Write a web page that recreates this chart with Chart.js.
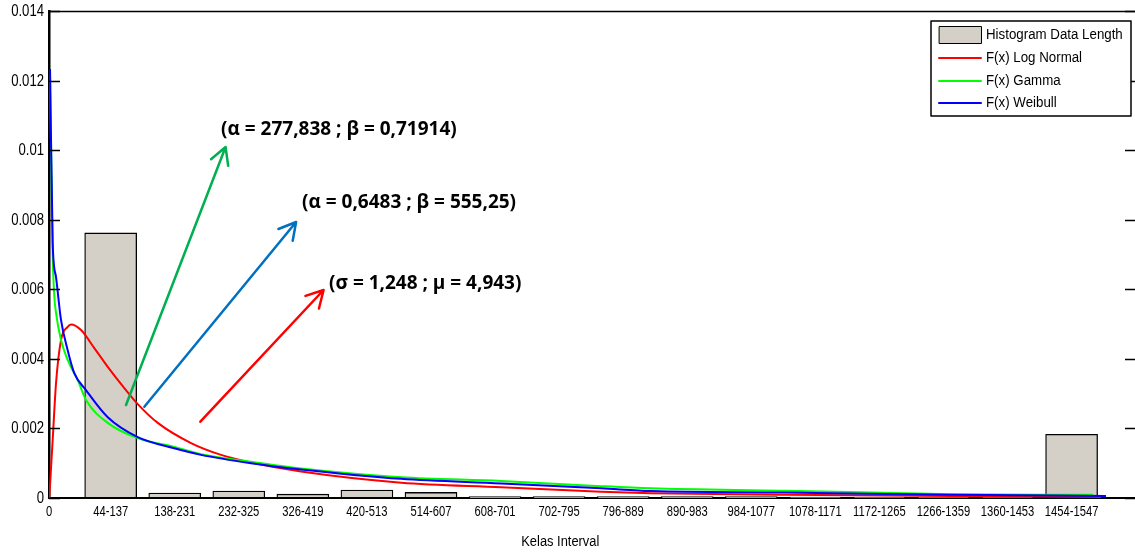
<!DOCTYPE html>
<html>
<head>
<meta charset="utf-8">
<script src="https://cdn.jsdelivr.net/npm/chart.js@4.4.1/dist/chart.umd.min.js"></script>
<style>
  html, body { margin: 0; padding: 0; background: #fff; overflow: hidden; width: 1135px; height: 552px; }
  #wrap { position: relative; width: 1138px; height: 552px; }
</style>
</head>
<body>
<div id="wrap"><canvas id="c" width="1138" height="552"></canvas></div>
<script>
// Interval classes of the data length histogram
const intervalLabels = ['44-137', '138-231', '232-325', '326-419', '420-513', '514-607', '608-701', '702-795',
  '796-889', '890-983', '984-1077', '1078-1171', '1172-1265', '1266-1359', '1360-1453', '1454-1547'];
// Relative frequency density of each class
const histogramDensity = [0.00762, 0.00014, 0.00020, 0.00011, 0.00023, 0.00016, 0.00004, 0.00004,
  0.00004, 0.00004, 0.00004, 0.00003, 0.00003, 0.00003, 0.00003, 0.00183];

// Fitted density curves (x = data length, y = f(x))
const logNormalX = [0.4, 5.4, 10.3, 17.6, 27.4, 32.3, 47.0, 66.5, 86.2, 110.5, 130.2, 159.6, 208.4, 252.5, 296.5, 369.9, 516.7, 663.5, 810.3, 883.7, 1078.9, 1324, 1544];
const logNormalY = [0, 0.00167, 0.00330, 0.00454, 0.00492, 0.00499, 0.00483, 0.00431, 0.00377, 0.00316, 0.00270, 0.00216, 0.00158, 0.00124, 0.00102, 0.00076, 0.00044, 0.00031, 0.00018, 0.00014, 0.00009, 0.00006, 0.00003];

const gammaX = [1.5, 5.4, 7.8, 10.3, 17.6, 27.4, 42.1, 54.3, 86.2, 130.2, 183.8, 223.0, 296.5, 369.9, 516.7, 663.5, 810.3, 883.7, 1078.9, 1324, 1532];
const gammaY = [0.0122, 0.0070, 0.0058, 0.00532, 0.00454, 0.00397, 0.00339, 0.00282, 0.00216, 0.00172, 0.00147, 0.00126, 0.00104, 0.00085, 0.00060, 0.00049, 0.00034, 0.00028, 0.00021, 0.00011, 0.00009];

const weibullX = [1.5, 5.4, 10.3, 17.6, 27.4, 37.1, 54.3, 86.2, 130.2, 183.8, 223.0, 296.5, 369.9, 516.7, 663.5, 810.3, 883.7, 1078.9, 1324, 1551];
const weibullY = [0.01233, 0.00733, 0.00635, 0.00512, 0.00425, 0.00359, 0.00310, 0.00232, 0.00175, 0.00143, 0.00124, 0.00100, 0.00082, 0.00055, 0.00042, 0.00028, 0.00020, 0.00016, 0.00009, 0.00006];

// Axis tick labels
const yTickLabels = ['0', '0.002', '0.004', '0.006', '0.008', '0.01', '0.012', '0.014'];
const xTickLabels = ['0'].concat(intervalLabels);

// Parameter notes with their arrows (data coordinates)
const notes = [
  { text: '(α = 277,838 ; β = 0,71914)', at: [252.5, 0.01060], from: [113.0, 0.002673], to: [259.1, 0.01009], color: '#00b050' },
  { text: '(α = 0,6483 ; β = 555,25)', at: [371.4, 0.008490], from: [139.9, 0.002625], to: [362.6, 0.007934], color: '#0070c0' },
  { text: '(σ = 1,248 ; μ = 4,943)', at: [411.0, 0.006170], from: [222.1, 0.002193], to: [402.9, 0.005979], color: '#ff0000' }
];

const plainFont = "'Liberation Sans', Arial, sans-serif";

const classCenters = intervalLabels.map(l => { const p = l.split('-').map(Number); return (p[0] + p[1]) / 2; });
const pts = (xs, ys) => xs.map((x, i) => ({ x, y: ys[i] }));

// text squeezed horizontally, like the narrow lettering of the axes
function narrowText(ctx, text, x, y, size, squeeze, align) {
  ctx.save();
  ctx.font = size + 'px ' + plainFont;
  ctx.textAlign = align;
  ctx.textBaseline = 'middle';
  ctx.fillStyle = '#000';
  ctx.translate(x, y);
  ctx.scale(squeeze, 1);
  ctx.fillText(text, 0, 0);
  ctx.restore();
}

const decorations = {
  id: 'decorations',
  afterDatasetsDraw(chart) {
    const { ctx, chartArea: a, scales: { x, y } } = chart;
    ctx.save();
    // frame top edge
    ctx.strokeStyle = '#000';
    ctx.lineWidth = 1.5;
    ctx.beginPath();
    ctx.moveTo(a.left, a.top + 0.5);
    ctx.lineTo(a.right, a.top + 0.5);
    ctx.stroke();
    // inward tick marks on both vertical sides, with the value labels
    y.ticks.forEach((t, i) => {
      const py = Math.round(y.getPixelForValue(t.value)) + 0.5;
      ctx.strokeStyle = '#000';
      ctx.lineWidth = 1.5;
      ctx.beginPath();
      ctx.moveTo(a.left, py); ctx.lineTo(a.left + 11, py);
      ctx.moveTo(a.right, py); ctx.lineTo(a.right - 11, py);
      ctx.stroke();
      narrowText(ctx, yTickLabels[i], a.left - 5, py + 0.5, 16, 0.82, 'right');
    });
    // category labels under the axis
    x.ticks.forEach((t, i) => {
      narrowText(ctx, xTickLabels[i], x.getPixelForValue(t.value), a.bottom + 14.5, 14, 0.8, 'center');
    });
    // parameter notes and arrows
    notes.forEach(n => {
      const x0 = x.getPixelForValue(n.from[0]), y0 = y.getPixelForValue(n.from[1]);
      const x1 = x.getPixelForValue(n.to[0]), y1 = y.getPixelForValue(n.to[1]);
      ctx.strokeStyle = n.color;
      ctx.lineWidth = 2.5;
      ctx.lineCap = 'round';
      ctx.lineJoin = 'round';
      ctx.beginPath();
      ctx.moveTo(x0, y0); ctx.lineTo(x1, y1);
      const ang = Math.atan2(y0 - y1, x0 - x1);
      const head = 19, spread = 29 * Math.PI / 180;
      ctx.moveTo(x1 + head * Math.cos(ang - spread), y1 + head * Math.sin(ang - spread));
      ctx.lineTo(x1, y1);
      ctx.lineTo(x1 + head * Math.cos(ang + spread), y1 + head * Math.sin(ang + spread));
      ctx.stroke();
      ctx.fillStyle = '#000';
      ctx.font = "bold 19px 'Open Sans', sans-serif";
      ctx.textAlign = 'left';
      ctx.textBaseline = 'middle';
      ctx.fillText(n.text, x.getPixelForValue(n.at[0]), y.getPixelForValue(n.at[1]));
    });
    // axis title, centred between the outer tick labels
    const xt = (x.getPixelForValue(0) + x.getPixelForValue(classCenters[classCenters.length - 1])) / 2;
    narrowText(ctx, 'Kelas Interval', xt, 542, 14, 0.92, 'center');
    // legend box
    const bx = 931, by = 21, bw = 200, bh = 95;
    ctx.fillStyle = '#fff';
    ctx.fillRect(bx, by, bw, bh);
    ctx.strokeStyle = '#000';
    ctx.lineWidth = 1.5;
    ctx.strokeRect(bx, by, bw, bh);
    const rows = [35, 58, 81, 103];
    chart.data.datasets.forEach((ds, i) => {
      const ry = rows[i];
      if (ds.type === 'line') {
        ctx.strokeStyle = ds.borderColor;
        ctx.lineWidth = 2;
        ctx.beginPath();
        ctx.moveTo(939, ry); ctx.lineTo(981, ry);
        ctx.stroke();
      } else {
        ctx.fillStyle = ds.backgroundColor;
        ctx.fillRect(939, ry - 8.5, 42, 17);
        ctx.strokeStyle = '#000';
        ctx.lineWidth = 1;
        ctx.strokeRect(939.5, ry - 8.5, 42, 17);
      }
      narrowText(ctx, ds.label, 986, ry + 0.5, 14, 0.95, 'left');
    });
    ctx.restore();
  }
};

new Chart(document.getElementById('c'), {
  type: 'bar',
  data: {
    datasets: [
      {
        type: 'bar', label: 'Histogram Data Length', order: 4,
        data: pts(classCenters, histogramDensity),
        backgroundColor: '#d4d0c8', borderColor: '#000', borderWidth: 1.3, borderSkipped: false,
        barThickness: 52
      },
      {
        type: 'line', label: 'F(x) Log Normal', order: 3,
        data: pts(logNormalX, logNormalY),
        borderColor: '#ff0000', borderWidth: 2, pointRadius: 0, cubicInterpolationMode: 'monotone', fill: false
      },
      {
        type: 'line', label: 'F(x) Gamma', order: 2,
        data: pts(gammaX, gammaY),
        borderColor: '#00ff00', borderWidth: 2, pointRadius: 0, cubicInterpolationMode: 'monotone', fill: false
      },
      {
        type: 'line', label: 'F(x) Weibull', order: 1,
        data: pts(weibullX, weibullY),
        borderColor: '#0000ff', borderWidth: 2, pointRadius: 0, cubicInterpolationMode: 'monotone', fill: false
      }
    ]
  },
  options: {
    responsive: false,
    animation: false,
    devicePixelRatio: 1,
    layout: { padding: { top: 11, right: 2, left: 0, bottom: 0 } },
    plugins: { legend: { display: false }, tooltip: { enabled: false } },
    scales: {
      x: {
        type: 'linear', min: 0, max: 1595, offset: false,
        grid: { display: false, drawTicks: false, offset: false },
        border: { display: true, color: '#000', width: 2 },
        afterBuildTicks: s => { s.ticks = [0].concat(classCenters).map(v => ({ value: v })); },
        afterFit: s => { s.height = 54; },
        ticks: { display: false, autoSkip: false, maxRotation: 0, minRotation: 0 }
      },
      y: {
        min: 0, max: 0.014,
        grid: { display: false, drawTicks: false },
        border: { display: true, color: '#000', width: 2.5 },
        afterFit: s => { s.width = 49; },
        ticks: { display: false, stepSize: 0.002 }
      }
    }
  },
  plugins: [decorations]
});
</script>
</body>
</html>
